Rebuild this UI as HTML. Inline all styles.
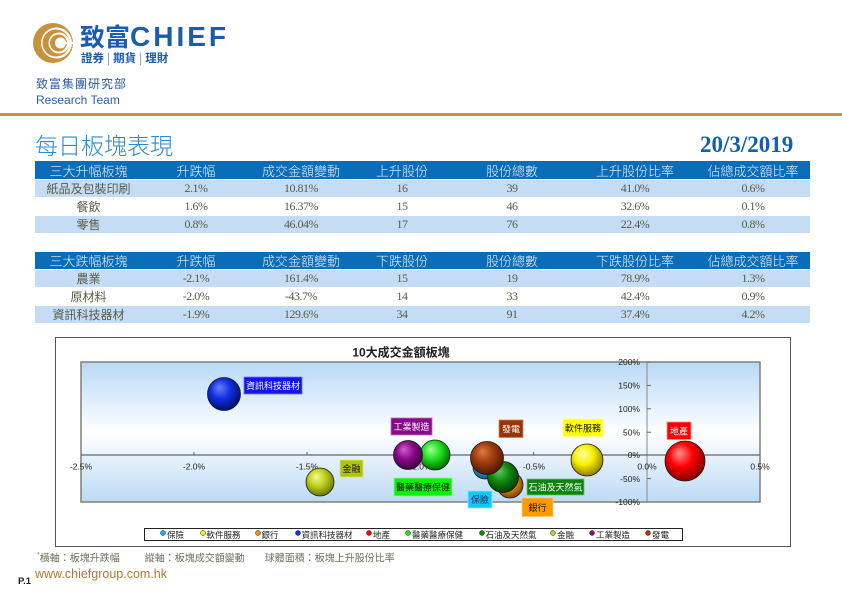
<!DOCTYPE html>
<html><head><meta charset="utf-8">
<style>
*{margin:0;padding:0;box-sizing:border-box}
body{width:842px;height:595px;background:#fff;position:relative;overflow:hidden;font-family:"Liberation Sans","Noto Sans CJK TC",sans-serif}
.abs{position:absolute}
.row{position:absolute;left:35px;width:775px;height:17px}
.hd{background:#0b6cb8;height:18px}
.lt{background:#c4ddf5}
.c{position:absolute;top:0;height:100%;width:120px;text-align:center;white-space:nowrap;display:flex;align-items:center;justify-content:center}
.hd .c{color:#e6eef8;font-size:13px;font-family:"Liberation Sans","Noto Sans CJK TC",sans-serif;font-weight:300}
.dt .c{color:#5a5a48;font-size:12px}
.num{font-family:"Liberation Serif","Noto Serif CJK SC",serif;letter-spacing:-0.5px;font-size:12.5px}
.c1{left:-6.5px}.c2{left:101px}.c3{left:206px}.c4{left:307px}.c5{left:417px}.c6{left:540px}.c7{left:658px}
</style></head><body>

<!-- logo -->
<svg class="abs" style="left:29px;top:20px" width="48" height="48" viewBox="0 0 48 48">
<circle cx="24" cy="23" r="20" fill="#c8913c"/>
<circle cx="27.5" cy="23" r="15.5" fill="#fff"/>
<circle cx="27" cy="23" r="13.5" fill="#c8913c"/>
<circle cx="30" cy="23" r="10.5" fill="#fff"/>
<circle cx="29.5" cy="23" r="8.5" fill="#c8913c"/>
<circle cx="31.5" cy="23" r="5.5" fill="#fff"/>
<rect x="33" y="22" width="12" height="2" fill="#fff"/>
</svg>
<div class="abs" style="left:80px;top:20px;font-size:28px;line-height:32px;color:#1a5cb0;font-weight:bold;white-space:nowrap"><span style="font-family:'Noto Sans CJK TC',sans-serif;font-size:25px">致富</span><span style="letter-spacing:3px;font-family:'Liberation Sans',sans-serif">CHIEF</span></div>
<div class="abs" style="left:81px;top:51px;font-size:11.5px;line-height:14px;color:#1a5cb0;font-weight:bold;white-space:nowrap;font-family:'Noto Sans CJK TC',sans-serif">證券<span style="font-weight:normal;color:#6a8ac0;margin:0 3px">|</span>期貨<span style="font-weight:normal;color:#6a8ac0;margin:0 3px">|</span>理財</div>
<div class="abs" style="left:36px;top:77px;font-size:12px;line-height:14px;color:#2a5aa0;letter-spacing:1px;white-space:nowrap;font-family:'Noto Sans CJK TC',sans-serif">致富集團研究部</div>
<div class="abs" style="left:36px;top:93px;font-size:12px;line-height:14px;color:#2a60b0;white-space:nowrap">Research Team</div>
<div class="abs" style="left:0;top:113px;width:842px;height:3px;background:#c8913c"></div>

<!-- title -->
<div class="abs" style="left:35px;top:129px;font-size:23px;line-height:30px;color:#2a8ad0;white-space:nowrap;font-family:'Noto Sans CJK TC',sans-serif;font-weight:300">每日板塊表現</div>
<div class="abs" style="left:700px;top:132px;font-size:23px;line-height:26px;color:#1060b0;font-weight:bold;font-family:'Liberation Serif',serif;white-space:nowrap">20/3/2019</div>

<!-- table 1 -->
<div class="row hd" style="top:161px"><div class="c c1">三大升幅板塊</div><div class="c c2">升跌幅</div><div class="c c3">成交金額變動</div><div class="c c4">上升股份</div><div class="c c5">股份總數</div><div class="c c6">上升股份比率</div><div class="c c7">佔總成交額比率</div></div>
<div class="row dt lt" style="top:180px"><div class="c c1">紙品及包裝印刷</div><div class="c c2 num">2.1%</div><div class="c c3 num">10.81%</div><div class="c c4 num">16</div><div class="c c5 num">39</div><div class="c c6 num">41.0%</div><div class="c c7 num">0.6%</div></div>
<div class="row dt" style="top:198px"><div class="c c1">餐飲</div><div class="c c2 num">1.6%</div><div class="c c3 num">16.37%</div><div class="c c4 num">15</div><div class="c c5 num">46</div><div class="c c6 num">32.6%</div><div class="c c7 num">0.1%</div></div>
<div class="row dt lt" style="top:216px"><div class="c c1">零售</div><div class="c c2 num">0.8%</div><div class="c c3 num">46.04%</div><div class="c c4 num">17</div><div class="c c5 num">76</div><div class="c c6 num">22.4%</div><div class="c c7 num">0.8%</div></div>

<!-- table 2 -->
<div class="row hd" style="top:252px;height:17px"><div class="c c1">三大跌幅板塊</div><div class="c c2">升跌幅</div><div class="c c3">成交金額變動</div><div class="c c4">下跌股份</div><div class="c c5">股份總數</div><div class="c c6">下跌股份比率</div><div class="c c7">佔總成交額比率</div></div>
<div class="row dt lt" style="top:270px"><div class="c c1">農業</div><div class="c c2 num">-2.1%</div><div class="c c3 num">161.4%</div><div class="c c4 num">15</div><div class="c c5 num">19</div><div class="c c6 num">78.9%</div><div class="c c7 num">1.3%</div></div>
<div class="row dt" style="top:288px"><div class="c c1">原材料</div><div class="c c2 num">-2.0%</div><div class="c c3 num">-43.7%</div><div class="c c4 num">14</div><div class="c c5 num">33</div><div class="c c6 num">42.4%</div><div class="c c7 num">0.9%</div></div>
<div class="row dt lt" style="top:306px"><div class="c c1">資訊科技器材</div><div class="c c2 num">-1.9%</div><div class="c c3 num">129.6%</div><div class="c c4 num">34</div><div class="c c5 num">91</div><div class="c c6 num">37.4%</div><div class="c c7 num">4.2%</div></div>

<!-- chart -->
<svg class="abs" style="left:0;top:0" width="842" height="595" viewBox="0 0 842 595" font-family="Liberation Sans, Noto Sans CJK TC, sans-serif">
<defs>
<linearGradient id="pbg" x1="0" y1="0" x2="0" y2="1">
<stop offset="0" stop-color="#b8d8f6"/><stop offset="0.5" stop-color="#ffffff"/><stop offset="1" stop-color="#bcdaf6"/>
</linearGradient>
<radialGradient id="g-blue" cx="0.45" cy="0.4" r="0.6" fx="0.35" fy="0.3"><stop offset="0" stop-color="#6a80ff"/><stop offset="0.5" stop-color="#1030e0"/><stop offset="1" stop-color="#001070"/></radialGradient>
<radialGradient id="g-yg" cx="0.45" cy="0.4" r="0.6" fx="0.35" fy="0.3"><stop offset="0" stop-color="#f0ff90"/><stop offset="0.5" stop-color="#c0d020"/><stop offset="1" stop-color="#6a7800"/></radialGradient>
<radialGradient id="g-pur" cx="0.45" cy="0.4" r="0.6" fx="0.35" fy="0.3"><stop offset="0" stop-color="#d060d0"/><stop offset="0.5" stop-color="#8a0a8a"/><stop offset="1" stop-color="#400040"/></radialGradient>
<radialGradient id="g-grn" cx="0.45" cy="0.4" r="0.6" fx="0.35" fy="0.3"><stop offset="0" stop-color="#a0ffa0"/><stop offset="0.5" stop-color="#20e020"/><stop offset="1" stop-color="#007000"/></radialGradient>
<radialGradient id="g-brn" cx="0.45" cy="0.4" r="0.6" fx="0.35" fy="0.3"><stop offset="0" stop-color="#e07a40"/><stop offset="0.5" stop-color="#a03c10"/><stop offset="1" stop-color="#501800"/></radialGradient>
<radialGradient id="g-cyn" cx="0.45" cy="0.4" r="0.6" fx="0.35" fy="0.3"><stop offset="0" stop-color="#90e0ff"/><stop offset="0.5" stop-color="#20a8e0"/><stop offset="1" stop-color="#005880"/></radialGradient>
<radialGradient id="g-dg" cx="0.45" cy="0.4" r="0.6" fx="0.35" fy="0.3"><stop offset="0" stop-color="#60d060"/><stop offset="0.5" stop-color="#108a10"/><stop offset="1" stop-color="#004000"/></radialGradient>
<radialGradient id="g-org" cx="0.45" cy="0.4" r="0.6" fx="0.35" fy="0.3"><stop offset="0" stop-color="#ffd080"/><stop offset="0.5" stop-color="#f09010"/><stop offset="1" stop-color="#804000"/></radialGradient>
<radialGradient id="g-yel" cx="0.45" cy="0.4" r="0.6" fx="0.35" fy="0.3"><stop offset="0" stop-color="#ffffb0"/><stop offset="0.5" stop-color="#f8f000"/><stop offset="1" stop-color="#908000"/></radialGradient>
<radialGradient id="g-red" cx="0.45" cy="0.4" r="0.6" fx="0.35" fy="0.3"><stop offset="0" stop-color="#ff9090"/><stop offset="0.5" stop-color="#ff0000"/><stop offset="1" stop-color="#800000"/></radialGradient>
</defs>
<!-- outer box -->
<rect x="55.5" y="337.5" width="735" height="209" fill="#fff" stroke="#555" stroke-width="1"/>
<text x="401" y="356.5" font-size="12" font-weight="bold" text-anchor="middle" fill="#222">10大成交金額板塊</text>
<!-- plot area -->
<rect x="81" y="362" width="679" height="140" fill="url(#pbg)" stroke="#808070" stroke-width="1.5"/>
<line x1="647" y1="362" x2="647" y2="502" stroke="#888" stroke-width="1"/>
<line x1="81" y1="455" x2="760" y2="455" stroke="#666" stroke-width="1.2"/>
<g stroke="#666" stroke-width="1">
<line x1="647" y1="362" x2="651" y2="362"/><line x1="647" y1="385.4" x2="651" y2="385.4"/><line x1="647" y1="408.8" x2="651" y2="408.8"/><line x1="647" y1="432.2" x2="651" y2="432.2"/><line x1="647" y1="478.6" x2="651" y2="478.6"/>
<line x1="194" y1="452" x2="194" y2="455"/><line x1="307" y1="452" x2="307" y2="455"/><line x1="420.5" y1="452" x2="420.5" y2="455"/><line x1="533.7" y1="452" x2="533.7" y2="455"/>
</g>
<g font-size="8.5" fill="#222" text-anchor="end">
<text x="640" y="365">200%</text><text x="640" y="388.5">150%</text><text x="640" y="412">100%</text><text x="640" y="435.5">50%</text><text x="640" y="458">0%</text><text x="640" y="482">-50%</text><text x="640" y="505">-100%</text>
</g>
<g font-size="8.5" fill="#222" text-anchor="middle">
<text x="81" y="469.5">-2.5%</text><text x="194" y="469.5">-2.0%</text><text x="307" y="469.5">-1.5%</text><text x="420.5" y="469.5">-1.0%</text><text x="534" y="469.5">-0.5%</text><text x="647" y="469.5">0.0%</text><text x="760" y="469.5">0.5%</text>
</g>
<!-- bubbles -->
<g stroke="#1a1a1a" stroke-width="0.8">
<circle cx="224" cy="394" r="16.5" fill="url(#g-blue)"/>
<circle cx="320" cy="482" r="14" fill="url(#g-yg)"/>
<circle cx="435" cy="455" r="15" fill="url(#g-grn)"/>
<circle cx="408" cy="455" r="14.5" fill="url(#g-pur)"/>
<circle cx="510" cy="485" r="13" fill="url(#g-org)"/>
<circle cx="485" cy="467" r="12" fill="url(#g-cyn)"/>
<circle cx="503" cy="477" r="15.5" fill="url(#g-dg)"/>
<circle cx="487" cy="458" r="16.5" fill="url(#g-brn)"/>
<circle cx="587" cy="460" r="16" fill="url(#g-yel)"/>
<circle cx="685" cy="461" r="20" fill="url(#g-red)"/>
</g>
<!-- data labels -->
<g font-size="9" text-anchor="middle">
<rect x="244" y="377" width="58" height="17" fill="#1414f0" stroke="#7070ff" stroke-width="0.8"/><text x="273" y="389" fill="#fff">資訊科技器材</text>
<rect x="391" y="418" width="41" height="17" fill="#8a0a8a" stroke="#c070c0" stroke-width="0.8"/><text x="411.5" y="430" fill="#fff">工業製造</text>
<rect x="340" y="460" width="23" height="17" fill="#b0c400" stroke="#d8e870" stroke-width="0.8"/><text x="351.5" y="472" fill="#111">金融</text>
<rect x="394" y="478" width="58" height="18" fill="#10f010" stroke="#80ff80" stroke-width="0.8"/><text x="423" y="490.5" fill="#111">醫藥醫療保健</text>
<rect x="499" y="420" width="24" height="17.5" fill="#9a3408" stroke="#d08060" stroke-width="0.8"/><text x="511" y="432.5" fill="#fff">發電</text>
<rect x="563" y="419" width="40" height="17.5" fill="#ffff00" stroke="#ffff90" stroke-width="0.8"/><text x="583" y="431.5" fill="#111">軟件服務</text>
<rect x="527" y="479" width="57" height="16" fill="#0a840a" stroke="#70c070" stroke-width="0.8"/><text x="555.5" y="490.5" fill="#fff">石油及天然氣</text>
<rect x="468" y="491" width="24" height="17" fill="#10c8ff" stroke="#90e8ff" stroke-width="0.8"/><text x="480" y="503" fill="#0a2a4a">保險</text>
<rect x="522" y="498" width="31" height="18.5" fill="#ff9a00" stroke="#ffc870" stroke-width="0.8"/><text x="537.5" y="511" fill="#111">銀行</text>
<rect x="667" y="422" width="24" height="17.5" fill="#ff0000" stroke="#ff9090" stroke-width="0.8"/><text x="679" y="434.5" fill="#fff">地產</text>
</g>
<!-- legend -->
<rect x="144.5" y="528.5" width="538" height="12" fill="#fff" stroke="#222" stroke-width="1"/>
<g stroke="#222" stroke-width="0.5">
<circle cx="163" cy="533" r="2.5" fill="#20b0e0"/>
<circle cx="203" cy="533" r="2.5" fill="#f8f000"/>
<circle cx="258" cy="533" r="2.5" fill="#f09010"/>
<circle cx="298" cy="533" r="2.5" fill="#1030e0"/>
<circle cx="369" cy="533" r="2.5" fill="#ff0000"/>
<circle cx="408" cy="533" r="2.5" fill="#20e020"/>
<circle cx="482" cy="533" r="2.5" fill="#108a10"/>
<circle cx="553" cy="533" r="2.5" fill="#c0d020"/>
<circle cx="592" cy="533" r="2.5" fill="#8a0a8a"/>
<circle cx="648" cy="533" r="2.5" fill="#a03c10"/>
</g>
<g font-size="8.5" fill="#222">
<text x="167" y="538">保險</text>
<text x="206.5" y="538">軟件服務</text>
<text x="261.5" y="538">銀行</text>
<text x="301.5" y="538">資訊科技器材</text>
<text x="373" y="538">地產</text>
<text x="412" y="538">醫藥醫療保健</text>
<text x="485.5" y="538">石油及天然氣</text>
<text x="557" y="538">金融</text>
<text x="596" y="538">工業製造</text>
<text x="652" y="538">發電</text>
</g>
</svg>

<!-- footer -->
<div class="abs" style="left:37px;top:549px;font-size:10px;line-height:13px;color:#707060;white-space:nowrap"><sup style="font-size:7px">*</sup>橫軸：板塊升跌幅<span style="display:inline-block;width:25px"></span>縱軸：板塊成交額變動<span style="display:inline-block;width:20px"></span>球體面積：板塊上升股份比率</div>
<div class="abs" style="left:18px;top:577px;font-size:9.5px;line-height:10px;font-weight:bold;color:#222">P.1</div>
<div class="abs" style="left:35px;top:567px;font-size:12.5px;line-height:14px;color:#b07a30;white-space:nowrap">www.chiefgroup.com.hk</div>

</body></html>
